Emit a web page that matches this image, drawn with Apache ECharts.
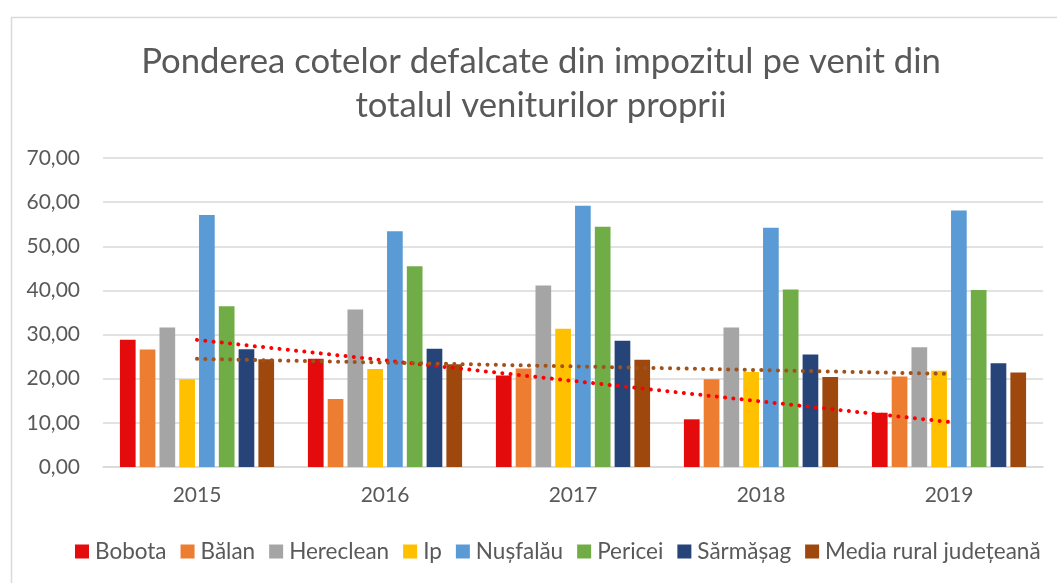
<!DOCTYPE html>
<html>
<head>
<meta charset="utf-8">
<script src="https://cdn.jsdelivr.net/npm/echarts@6/dist/echarts.min.js"></script>
<style>
  html, body { margin: 0; padding: 0; background: #fff; }
  #chart { width: 1057px; height: 583px; }
</style>
</head>
<body>
<div id="chart"></div>
<script>
// years on the x axis
const years = ['2015', '2016', '2017', '2018', '2019'];

// values per locality
const bobota    = [28.8, 24.5, 20.7, 10.8, 12.3];
const balan     = [26.6, 15.4, 22.3, 19.9, 20.5];
const hereclean = [31.6, 35.7, 41.1, 31.6, 27.1];
const ip        = [19.9, 22.2, 31.3, 21.5, 21.8];
const nusfalau  = [57.1, 53.4, 59.2, 54.2, 58.1];
const pericei   = [36.4, 45.5, 54.4, 40.2, 40.1];
const sarmasag  = [26.7, 26.8, 28.6, 25.5, 23.5];
const media     = [24.4, 23.3, 24.3, 20.4, 21.4];

// linear trendline ends (first year, last year)
const trendBobota = [28.8, 10.2];
const trendMedia  = [24.5, 21.1];

const names = ['Bobota', 'Bălan', 'Hereclean', 'Ip', 'Nușfalău', 'Pericei', 'Sărmășag', 'Media rural județeană'];
const values = [bobota, balan, hereclean, ip, nusfalau, pericei, sarmasag, media];
const colors = ['#E30B0B', '#ED7D31', '#A5A5A5', '#FFC000', '#5B9BD5', '#70AD47', '#264478', '#9E480E'];

const font = 'Lato, "Open Sans", sans-serif';
const textColor = '#595959';

const barSeries = names.map((n, i) => ({
  name: n,
  type: 'bar',
  data: values[i],
  barWidth: 15.7,
  barGap: '26%',
  itemStyle: { color: colors[i] },
  z: 2
}));

const trendLine = (name, ends, color) => ({
  name: name,
  type: 'line',
  data: [[years[0], ends[0]], [years[years.length - 1], ends[1]]],
  symbol: 'none',
  silent: true,
  z: 5,
  lineStyle: { color: color, width: 4, type: [0.1, 8.2], cap: 'round' }
});

const chart = echarts.init(document.getElementById('chart'));
chart.setOption({
  animation: false,
  color: colors,
  textStyle: { fontFamily: font },
  graphic: [{
    type: 'rect',
    left: 9, top: 15,
    shape: { width: 1070, height: 590 },
    style: { fill: 'none', stroke: '#d9d9d9', lineWidth: 1.5 },
    silent: true
  }],
  title: {
    text: 'Ponderea cotelor defalcate din impozitul pe venit din\ntotalul veniturilor proprii',
    left: 536,
    textAlign: 'center',
    top: 35,
    textStyle: {
      fontFamily: font,
      fontSize: 34.7,
      fontWeight: 'normal',
      color: textColor,
      lineHeight: 44,
      align: 'center'
    }
  },
  legend: {
    data: names,
    left: 70,
    top: 535,
    itemWidth: 14,
    itemHeight: 14,
    itemGap: 14,
    icon: 'rect',
    textStyle: { fontFamily: font, fontSize: 22.5, color: textColor, padding: [0, 0, 0, 1] }
  },
  grid: { left: 103, right: 14, top: 158, bottom: 116, containLabel: false },
  xAxis: {
    type: 'category',
    data: years,
    axisLine: { lineStyle: { color: '#d9d9d9', width: 1.5 } },
    axisTick: { show: false },
    axisLabel: { fontFamily: font, fontSize: 21, color: textColor, margin: 18 }
  },
  yAxis: {
    type: 'value',
    min: 0,
    max: 70,
    interval: 10,
    axisLine: { show: false },
    axisTick: { show: false },
    splitLine: { lineStyle: { color: '#d9d9d9', width: 1.5 } },
    axisLabel: {
      fontFamily: font,
      fontSize: 21,
      color: textColor,
      margin: 23,
      formatter: v => v.toFixed(2).replace('.', ',')
    }
  },
  series: [
    ...barSeries,
    trendLine('Trend Bobota', trendBobota, '#FF0000'),
    trendLine('Trend Media', trendMedia, '#A0521C')
  ]
});
</script>
</body>
</html>
